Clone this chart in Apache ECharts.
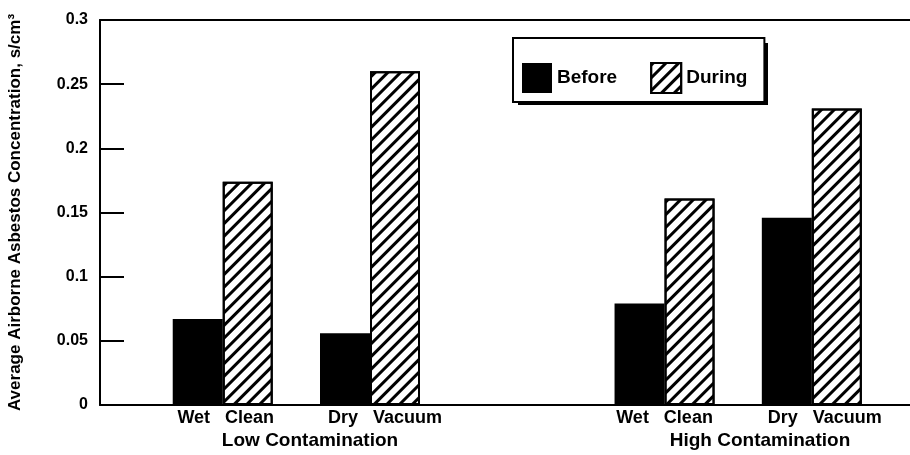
<!DOCTYPE html>
<html style="height: 100%">
<head>
	<meta charset="utf-8">
	<title></title>
	<script type="text/javascript" src="https://cdn.jsdelivr.net/npm/echarts@6/dist/echarts.min.js"></script>
</head>
<body style="height: 100%; margin: 0; background: #fff">
<div id="container" style="width: 910px; height: 455px"></div>
<script type="text/javascript">
	// data
	var categories = ['Wet   Clean', 'Dry   Vacuum', 'Wet   Clean', 'Dry   Vacuum'];
	var groups = ['Low Contamination', 'High Contamination'];
	var beforeValues = [0.067, 0.056, 0.079, 0.146];
	var duringValues = [0.174, 0.260, 0.161, 0.231];

	// layout: category points along the x axis, the pairs sit on some of them
	var pointCount = 34;
	var barPoints = [5, 11, 23, 29];
	var labelShift = [3, 15, 0, 13];
	var groupPointCount = 28;
	var groupPoints = [7, 22];

	var font = 'Liberation Sans, Arial, sans-serif';

	var slotLabels = [], before = [], during = [];
	for (var i = 0; i < pointCount; i++) {
		slotLabels.push('');
		before.push('-');
		during.push('-');
	}
	for (var i = 0; i < barPoints.length; i++) {
		slotLabels[barPoints[i]] = {
			value: categories[i],
			textStyle: {padding: [0, 0, 0, labelShift[i] * 2]}
		};
		before[barPoints[i]] = beforeValues[i];
		during[barPoints[i]] = duringValues[i];
	}
	var groupLabels = [];
	for (var i = 0; i < groupPointCount; i++) groupLabels.push('');
	for (var i = 0; i < groups.length; i++) groupLabels[groupPoints[i]] = groups[i];

	var dom = document.getElementById('container');
	var myChart = echarts.init(dom, null, {renderer: 'canvas'});

	var option = {
		animation: false,
		textStyle: {fontFamily: font},
		grid: {left: 100, top: 20, bottom: 50, right: 0, outerBoundsMode: 'none', containLabel: false},
		legend: {
			data: ['Before', 'During'],
			left: 513, top: 38,
			orient: 'horizontal',
			icon: 'rect',
			itemWidth: 30, itemHeight: 30,
			itemGap: 33,
			padding: [24, 17, 8, 9],
			backgroundColor: '#fff',
			borderColor: '#000', borderWidth: 2,
			z: 5,
			textStyle: {fontFamily: font, fontSize: 19, fontWeight: 'bold', color: '#000', padding: [4, 0, 0, 0]}
		},
		// drop shadow behind the legend box
		graphic: [{
			type: 'rect',
			left: 518, top: 43, z: 1,
			shape: {width: 250, height: 62},
			style: {fill: '#000'}
		}],
		xAxis: [
			{
				type: 'category',
				boundaryGap: false,
				data: slotLabels,
				axisLine: {lineStyle: {color: '#000', width: 2}},
				axisTick: {show: false},
				axisLabel: {
					interval: 0, margin: 4, color: '#000',
					fontFamily: font, fontSize: 18, fontWeight: 'bold'
				}
			},
			{
				type: 'category',
				position: 'bottom',
				offset: 22,
				boundaryGap: false,
				data: groupLabels,
				axisLine: {show: false},
				axisTick: {show: false},
				axisLabel: {
					interval: 0, margin: 4, color: '#000',
					fontFamily: font, fontSize: 19, fontWeight: 'bold'
				}
			},
			{
				type: 'category',
				position: 'top',
				data: slotLabels,
				axisLine: {lineStyle: {color: '#000', width: 2}},
				axisTick: {show: false},
				axisLabel: {show: false}
			}
		],
		yAxis: {
			type: 'value',
			min: 0, max: 0.3, interval: 0.05,
			name: 'Average Airborne Asbestos Concentration, s/cm³',
			nameLocation: 'middle',
			nameGap: 76,
			nameTextStyle: {fontFamily: font, fontSize: 17, fontWeight: 'bold', color: '#000'},
			axisLine: {show: true, lineStyle: {color: '#000', width: 2}},
			axisTick: {show: true, inside: true, length: 24, lineStyle: {color: '#000', width: 2}},
			axisLabel: {margin: 12, color: '#000', fontFamily: font, fontSize: 16, fontWeight: 'bold'},
			splitLine: {show: false}
		},
		series: [
			{
				name: 'Before',
				type: 'bar',
				data: before,
				barWidth: 50,
				barGap: '0%',
				itemStyle: {color: '#000'}
			},
			{
				name: 'During',
				type: 'bar',
				data: during,
				barWidth: 50,
				itemStyle: {
					color: '#fff',
					borderColor: '#000',
					borderWidth: 2,
					decal: {
						symbol: 'rect',
						symbolSize: 1,
						color: '#000',
						dashArrayX: [1, 0],
						dashArrayY: [3, 6],
						rotation: -Math.PI / 4
					}
				}
			}
		]
	};

	myChart.setOption(option);
</script>
</body>
</html>
